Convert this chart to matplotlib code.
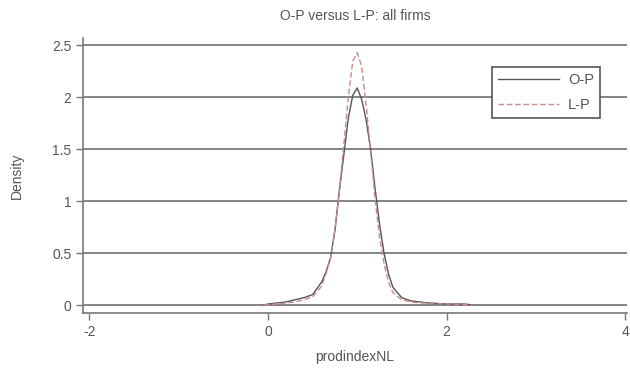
import matplotlib
matplotlib.use('Agg')
import matplotlib.pyplot as plt

# density estimates
x = [-0.05, 0.0, 0.1, 0.2, 0.3, 0.4, 0.5, 0.6, 0.65, 0.7, 0.75, 0.8, 0.85, 0.9,
     0.95, 1.0, 1.05, 1.1, 1.15, 1.2, 1.25, 1.3, 1.35, 1.4, 1.5, 1.6, 1.7, 1.8,
     2.0, 2.2, 2.3]
op = [0.0, 0.01, 0.02, 0.03, 0.05, 0.07, 0.1, 0.22, 0.32, 0.45, 0.72, 1.1, 1.45, 1.8,
      2.02, 2.09, 1.98, 1.78, 1.5, 1.12, 0.78, 0.5, 0.3, 0.17, 0.07, 0.04, 0.03, 0.02,
      0.01, 0.01, 0.0]
lp = [0.0, 0.005, 0.01, 0.02, 0.03, 0.05, 0.08, 0.18, 0.3, 0.45, 0.72, 1.1, 1.55, 2.0,
      2.35, 2.43, 2.3, 1.92, 1.48, 1.02, 0.65, 0.4, 0.22, 0.12, 0.05, 0.03, 0.02, 0.02,
      0.01, 0.005, 0.0]

xticks = [-2, 0, 2, 4]
yticks = [0, 0.5, 1, 1.5, 2, 2.5]
ylabels = ['0', '0.5', '1', '1.5', '2', '2.5']

txt = '#555555'
plt.rcParams['font.family'] = ['Liberation Sans', 'DejaVu Sans']

fig = plt.figure(figsize=(6.3, 3.74), dpi=100)
ax = fig.add_axes([0.132, 0.163, 0.863, 0.735])

for y in yticks:
    ax.axhline(y, color='#7a7a7a', lw=1.3, zorder=1)

ax.plot(x, op, color='#555555', lw=1.0, label='O-P', zorder=3)
ax.plot(x, lp, color='#c98a8a', lw=1.0, ls=(0, (4, 2)), label='L-P', zorder=3)

ax.set_xlim(-2.07, 4.02)
ax.set_ylim(-0.077, 2.57)
ax.set_xticks(xticks)
ax.set_xticklabels([str(v) for v in xticks])
ax.set_yticks(yticks)
ax.set_yticklabels(ylabels)

for s in ['top', 'right']:
    ax.spines[s].set_visible(False)
for s in ['left', 'bottom']:
    ax.spines[s].set_color('#777777')
    ax.spines[s].set_linewidth(1.2)
ax.tick_params(colors='#777777', labelcolor=txt, labelsize=10, length=5, width=1)

ax.set_title('O-P versus L-P: all firms', fontsize=10, color=txt, pad=13)
ax.set_xlabel('prodindexNL', fontsize=10, color=txt, labelpad=8)
ax.set_ylabel('Density', fontsize=10, color=txt, labelpad=20)

leg = ax.legend(loc='upper left', bbox_to_anchor=(0.752, 0.895), fontsize=10.5,
                fancybox=False, framealpha=1, edgecolor='#555555',
                handlelength=4.2, borderpad=0.4, labelspacing=0.75, handletextpad=0.6,
                borderaxespad=0)
for t in leg.get_texts():
    t.set_color(txt)
leg.get_frame().set_linewidth(1.2)

fig.savefig('out.png', dpi=100)
